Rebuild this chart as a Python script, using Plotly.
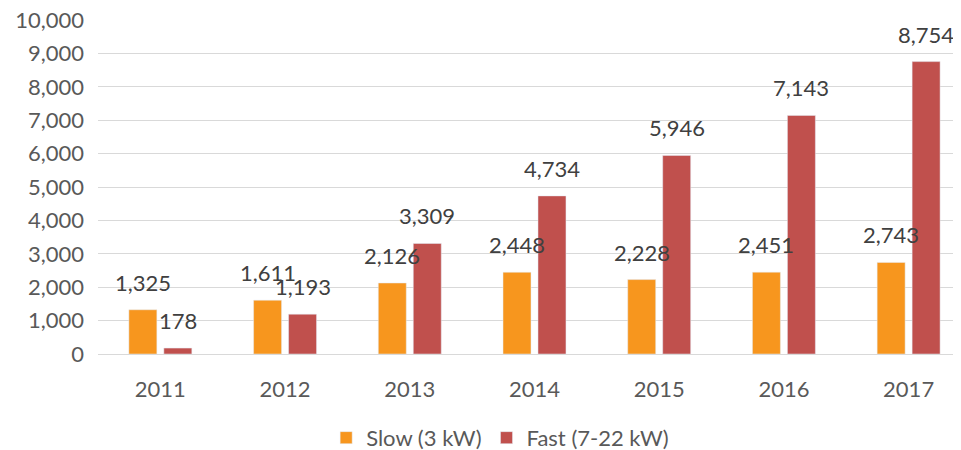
import plotly.graph_objects as go

years = ["2011", "2012", "2013", "2014", "2015", "2016", "2017"]
slow = [1325, 1611, 2126, 2448, 2228, 2451, 2743]
fast = [178, 1193, 3309, 4734, 5946, 7143, 8754]
series_names = ["Slow (3 kW)", "Fast (7-22 kW)"]
y_ticks = list(range(0, 10001, 1000))

ORANGE = "#F7961E"
RED = "#C0504D"
FONT = "Lato"
FS = 22

fig = go.Figure()
fig.add_trace(go.Bar(x=years, y=slow, name=series_names[0], marker_color=ORANGE))
fig.add_trace(go.Bar(x=years, y=fast, name=series_names[1], marker_color=RED))

for vals, shift in ((slow, -17.5), (fast, 17.5)):
    for i, v in enumerate(vals):
        fig.add_annotation(x=i, y=v, xref="x", yref="y", text=f"{v:,}", showarrow=False,
                           xshift=shift, yshift=12, yanchor="bottom",
                           font=dict(family=FONT, size=FS, color="#404040"))

# page body has an 8px margin, so the figure is sized/offset to compensate
fig.update_layout(
    width=953, height=442,
    margin=dict(l=90, r=0, t=12, b=96, autoexpand=False),
    paper_bgcolor="white", plot_bgcolor="white",
    barmode="group", bargap=0.439, bargroupgap=0.2,
    font=dict(family=FONT, size=FS, color="#595959"),
    legend=dict(orientation="h", x=0.466, xanchor="center", y=-0.251, yanchor="middle",
                font=dict(family=FONT, size=FS, color="#595959")),
    showlegend=True,
)
fig.update_xaxes(type="category", range=[-0.5, 6.42], showgrid=False, showline=False, ticks="",
                 automargin=False, ticklabelstandoff=20, tickfont=dict(size=FS, color="#595959"))
fig.update_yaxes(range=[0, 10000], tickvals=y_ticks, tickformat=",", showgrid=True,
                 gridcolor="#D9D9D9", gridwidth=1, zeroline=True, zerolinecolor="#D9D9D9",
                 zerolinewidth=1, showline=False, ticks="", ticklabelstandoff=13,
                 ticklabeloverflow="allow", automargin=False,
                 tickfont=dict(size=FS, color="#595959"))

fig.write_html("out.html")
